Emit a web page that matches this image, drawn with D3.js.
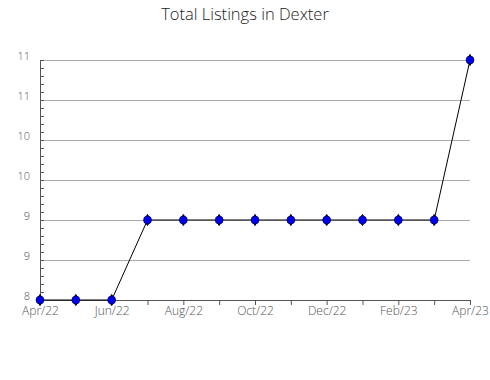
<!DOCTYPE html>
<html>
<head>
<meta charset="utf-8">
<script src="https://cdn.jsdelivr.net/npm/d3@7"></script>
<style>
  body { margin: 0; background: #fff; }
  text { font-family: "Open Sans", sans-serif; }
</style>
</head>
<body>
<div id="chart"></div>
<script>
var months = ['Apr/22', 'May/22', 'Jun/22', 'Jul/22', 'Aug/22', 'Sep/22', 'Oct/22',
              'Nov/22', 'Dec/22', 'Jan/23', 'Feb/23', 'Mar/23', 'Apr/23'];
var listings = [8, 8, 8, 9, 9, 9, 9, 9, 9, 9, 9, 9, 11];
var yTicks = [8, 8.5, 9, 9.5, 10, 10.5, 11];
var yTickLabels = ['8', '9', '9', '10', '10', '11', '11'];

var width = 490;
var height = 380;
var margin = {top: 60, right: 20, bottom: 80, left: 40};

var svg = d3.select('#chart')
    .append('svg')
    .attr('width', width)
    .attr('height', height);

svg.append('text')
    .attr('x', width / 2)
    .attr('y', 20)
    .attr('text-anchor', 'middle')
    .attr('font-size', '16.5px')
    .attr('font-weight', 300)
    .style('fill', '#222')
    .text('Total Listings in Dexter');

var x = d3.scaleLinear()
    .domain([0, months.length - 1])
    .range([margin.left, width - margin.right]);

var y = d3.scaleLinear()
    .domain([8, 11])
    .range([height - margin.bottom, margin.top]);

// grid lines
svg.selectAll('line.grid')
    .data(yTicks.slice(1))
    .enter()
    .append('line')
    .attr('class', 'grid')
    .attr('x1', margin.left)
    .attr('x2', width - margin.right)
    .attr('y1', function(d) { return y(d); })
    .attr('y2', function(d) { return y(d); })
    .style('stroke', '#aaa')
    .style('stroke-width', 1)
    .attr('shape-rendering', 'crispEdges');

// minor ticks on y axis, pointing inward
var minor = d3.range(0, (yTicks.length - 1) * 5 + 1).map(function(i) { return 8 + i * 0.1; });
svg.selectAll('line.minor')
    .data(minor)
    .enter()
    .append('line')
    .attr('class', 'minor')
    .attr('x1', margin.left)
    .attr('x2', margin.left + 4)
    .attr('y1', function(d) { return Math.round(y(d)) + 0.5; })
    .attr('y2', function(d) { return Math.round(y(d)) + 0.5; })
    .style('stroke', '#555');

// y axis line
svg.append('line')
    .attr('x1', margin.left + 0.5)
    .attr('x2', margin.left + 0.5)
    .attr('y1', y(11))
    .attr('y2', y(8))
    .style('stroke', '#555');

// x axis line + ticks
var xAxis = d3.axisBottom(x)
    .tickValues(d3.range(months.length))
    .tickSize(5)
    .tickSizeOuter(0)
    .tickFormat(function(d, i) { return i % 2 === 0 ? months[i] : ''; });

var gx = svg.append('g')
    .attr('transform', 'translate(0,' + y(8) + ')')
    .call(xAxis);
gx.select('.domain').style('stroke', '#555');
gx.selectAll('.tick line').style('stroke', '#555');
gx.selectAll('.tick text')
    .attr('y', 6)
    .attr('font-size', '12px')
    .attr('font-family', '"Open Sans", sans-serif')
    .attr('font-weight', 300)
    .style('fill', '#555');

// y labels
svg.selectAll('text.ylab')
    .data(yTicks)
    .enter()
    .append('text')
    .attr('class', 'ylab')
    .attr('x', margin.left - 10)
    .attr('y', function(d) { return y(d) - 3; })
    .attr('text-anchor', 'end')
    .attr('dominant-baseline', 'middle')
    .attr('font-size', '11px')
    .attr('font-weight', 300)
    .style('fill', '#555')
    .text(function(d, i) { return yTickLabels[i]; });

var line = d3.line()
    .x(function(d, i) { return x(i); })
    .y(function(d) { return y(d); });

svg.append('path')
    .datum(listings)
    .attr('d', line)
    .style('fill', 'none')
    .style('stroke', '#000')
    .style('stroke-width', 1);

var pts = svg.selectAll('g.pt')
    .data(listings)
    .enter()
    .append('g')
    .attr('class', 'pt')
    .attr('transform', function(d, i) { return 'translate(' + x(i) + ',' + y(d) + ')'; });

pts.append('path')
    .attr('d', d3.symbol().type(d3.symbolDiamond).size(36))
    .style('fill', '#0000ee')
    .style('stroke', '#000033')
    .style('stroke-width', 1);

pts.append('circle')
    .attr('r', 4)
    .style('fill', '#0000ee')
    .style('stroke', '#000033')
    .style('stroke-width', 0.6);
</script>
</body>
</html>
